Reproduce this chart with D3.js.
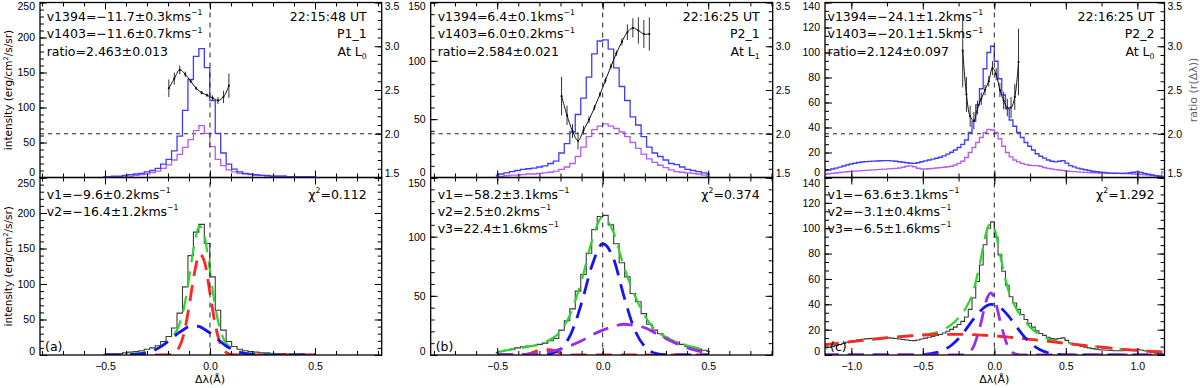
<!DOCTYPE html>
<html>
<head>
<meta charset="utf-8">
<script src="https://cdnjs.cloudflare.com/ajax/libs/d3/7.8.5/d3.min.js"></script>
<style>
  body { margin: 0; background: #fff; }
  svg { display: block; font-family: "DejaVu Sans", sans-serif; }
</style>
</head>
<body>
<div id="chart"></div>
<script>
// ---------------- data ----------------

// panel (a) P1_1 : wavelength bins (Angstrom) and Si IV intensities
var lamA = [-0.508,-0.482,-0.456,-0.430,-0.404,-0.378,-0.352,-0.326,-0.300,-0.274,
            -0.248,-0.222,-0.196,-0.170,-0.144,-0.118,-0.092,-0.066,-0.040,-0.014,
             0.012, 0.038, 0.064, 0.090, 0.116, 0.142, 0.168, 0.194, 0.220, 0.246,
             0.272, 0.298, 0.324, 0.350, 0.376, 0.402, 0.428, 0.454, 0.480, 0.506];
var i1394A = [1,1,2,2,3,4,5,6,8,10, 13,19,26,38,59,96,140,173,184,157,
              110,63,35,19,12,8,6,5,4,3, 3,2,2,2,1,1,1,1,1,1];
var i1403A = [1,1,1,1,2,2,3,4,5,7, 9,13,18,25,33,43,54,67,74,63,
              44,26,17,11,8,6,5,4,3,3, 2,2,2,2,1,1,1,1,1,1];
var ratioXA   = [-0.196,-0.170,-0.144,-0.118,-0.092,-0.066,-0.040,-0.014,0.012,0.038,0.064,0.090];
var ratioA    = [2.52,2.63,2.73,2.68,2.60,2.52,2.47,2.44,2.41,2.38,2.42,2.55];
var ratioErrA = [0.10,0.07,0.05,0.03,0.02,0.02,0.02,0.02,0.03,0.04,0.07,0.14];
var fitXA    = [-0.5,-0.4,-0.3,-0.25,-0.2,-0.175,-0.15,-0.125,-0.1,-0.075,-0.05,-0.025,0,0.025,0.05,0.075,0.1,0.15,0.2,0.3,0.4,0.5];
var fitTotA  = [1,1.5,4.5,9,19,27,40,65,108,155,182,166,118,68,34,17,10,4,2,1.5,1,1];
var fitRedA  = [0,0,0,0,0.4,2,9,29,68,114,142,130,87,43,15,4,1,0,0,0,0,0];
var fitBlueA = [0,0.2,3,9,19,25,31,36,40,41,40,36,31,25,19,13,9,3,1,0,0,0];

// panel (b) P2_1
var lamB = [-0.507,-0.481,-0.455,-0.429,-0.403,-0.377,-0.351,-0.325,-0.299,-0.273,
            -0.247,-0.221,-0.195,-0.169,-0.143,-0.117,-0.091,-0.065,-0.039,-0.013,
             0.013, 0.039, 0.065, 0.091, 0.117, 0.143, 0.169, 0.195, 0.221, 0.247,
             0.273, 0.299, 0.325, 0.351, 0.377, 0.403, 0.429, 0.455, 0.481, 0.507];
var i1394B = [2,3,4,5,6,7,7.5,8,9,10, 12,14,21,29,39,54,68,86,106,117,
              118,110,94,78,66,52,45,35,26,21, 18,15,12,11,9,7,6,5,4,3];
var i1403B = [1,1,1.5,2,2,2.5,3,3,3.5,4, 4.5,5.5,7,9,12,18,26,35,41,44,
              46,44,42,39,35,30,25,20,16,13, 10.5,8.5,6.5,5,4.5,4,3.5,3,2,1];
var ratioXB   = [-0.195,-0.169,-0.143,-0.117,-0.091,-0.065,-0.039,-0.013,0.013,0.039,0.065,0.091,0.117,0.143,0.169,0.195,0.221];
var ratioB    = [2.43,2.21,2.03,1.92,2.04,2.16,2.30,2.45,2.61,2.77,2.92,3.05,3.16,3.21,3.18,3.14,3.14];
var ratioErrB = [0.22,0.11,0.08,0.10,0.05,0.04,0.03,0.03,0.03,0.03,0.03,0.04,0.09,0.11,0.15,0.16,0.19];
var fitXB    = [-0.5,-0.45,-0.4,-0.35,-0.3,-0.25,-0.2,-0.15,-0.1,-0.05,0,0.05,0.1,0.15,0.2,0.25,0.3,0.35,0.4,0.45,0.5];
var fitTotB  = [2.5,4,5.5,7,9,13,20,36,63,97,117,104,75,51,33,21,15,11,8,6,4];
var fitRedB  = [0,0,0.1,1,4,4.5,1.5,0.1,0,0,0,0,0,0,0,0,0,0,0,0,0];
var fitBlueB = [0,0,0,0,0.2,1,5,18,44,76,94,82,50,22,7,1.5,0.2,0,0,0,0];
var fitPurpB = [0,0.1,0.3,0.7,1.4,2.8,4.9,8.1,12,17,21,24,26,25,23,18.5,14,9.6,6,3.5,2];

// panel (c) P2_2
var lamC = [-1.183,-1.157,-1.131,-1.105,-1.079,-1.053,-1.027,-1.001,-0.975,-0.949,
            -0.923,-0.897,-0.871,-0.845,-0.819,-0.793,-0.767,-0.741,-0.715,-0.689,
            -0.663,-0.637,-0.611,-0.585,-0.559,-0.533,-0.507,-0.481,-0.455,-0.429,
            -0.403,-0.377,-0.351,-0.325,-0.299,-0.273,-0.247,-0.221,-0.195,-0.169,
            -0.143,-0.117,-0.091,-0.065,-0.039,-0.013, 0.013, 0.039, 0.065, 0.091,
             0.117, 0.143, 0.169, 0.195, 0.221, 0.247, 0.273, 0.299, 0.325, 0.351,
             0.377, 0.403, 0.429, 0.455, 0.481, 0.507, 0.533, 0.559, 0.585, 0.611,
             0.637, 0.663, 0.689, 0.715, 0.741, 0.767, 0.793, 0.819, 0.845, 0.871,
             0.897, 0.923, 0.949, 0.975, 1.001, 1.027, 1.053, 1.079, 1.105, 1.131,
             1.157, 1.183];
var i1394C = [5.5,6,6.8,7.5,8.3,9.2,10,10.8,11.4,12,
              12.4,12.7,12.9,13.1,13.2,13.4,13.5,13.5,13.3,13,
              12.6,12.2,11.8,11.4,11.3,11.8,12.6,13.3,14,14.7,
              15.4,16.2,17.3,18.7,20.2,22,24,26.5,30,36,
              45,58,71,87,100,105,93,79,66,55,
              46,41,36,32,28,25,22,19,17,15.5,
              14,13,12.5,13,13.5,11.5,9.5,8.5,7.5,6.8,
              6.2,5.6,5,4.6,4.2,4,3.7,3.5,3.4,3.3,
              3.3,3.5,3.8,4.2,4.5,4,3.3,2.6,2,1.5,
              1,0.8];
var i1403C = [2.5,3,3.3,3.6,4,4.3,4.6,4.9,5.1,5.3,
              5.5,5.7,5.9,6.1,6.3,6.5,6.7,6.9,7.1,7.3,
              7.6,8.2,9,9.3,8.6,7.4,6.8,6.8,7,7.3,
              7.6,7.9,8.2,8.6,9,10,11.3,13,16,20,
              24,28,32,36,38.5,38,36,31,25,20,
              16.5,14,12.5,11.3,10.5,9.8,9.5,9.5,9,8,
              7.3,6.8,6.3,6,5.6,5.2,4.9,4.7,4.5,4.3,
              4.1,3.9,3.8,3.7,3.6,3.5,3.4,3.3,3.3,3.3,
              3.2,3.1,3,2.8,2.6,2.4,2.2,2,1.6,1.3,
              1.2,4.5];
var ratioXC   = [-0.221,-0.195,-0.169,-0.143,-0.117,-0.091,-0.065,-0.039,-0.013,0.013,0.039,0.065,0.091,0.117,0.143,0.169];
var ratioC    = [2.95,2.45,2.2,2.15,2.3,2.4,2.5,2.6,2.75,2.68,2.5,2.38,2.3,2.3,2.42,2.82];
var ratioErrC = [0.42,0.2,0.12,0.1,0.08,0.07,0.06,0.06,0.08,0.07,0.08,0.1,0.1,0.12,0.15,0.38];
var fitXC    = [-1.2,-1.1,-1.0,-0.9,-0.8,-0.7,-0.6,-0.5,-0.4,-0.35,-0.3,-0.25,-0.2,-0.15,-0.1,-0.05,-0.025,0,
                0.05,0.1,0.15,0.2,0.25,0.3,0.35,0.4,0.5,0.6,0.7,0.8,0.9,1.0,1.1,1.2];
var fitTotC  = [7.9,9.2,10.5,11.8,13.0,14.1,15.0,16.0,18.2,20.4,24.0,29.3,36.9,49.3,72.7,99.3,104.1,99.7,
                73.7,50.3,37.3,28.7,22.0,17.2,13.9,11.7,9.3,7.9,6.7,5.6,4.5,3.6,2.9,2.2];
var fitRedC  = [7.9,9.2,10.5,11.8,13.0,14.1,15.0,15.7,16.2,16.3,16.3,16.3,16.2,16.0,15.7,15.4,15.2,15.0,
                14.6,14.1,13.6,13.0,12.4,11.8,11.2,10.5,9.2,7.9,6.7,5.6,4.5,3.6,2.9,2.2];
var fitBlueC = [0,0,0,0,0,0,0,0.3,2,4.1,7.7,13,20,27.7,34.6,39,39.9,39.8,
                36.7,30.6,23,15.7,9.6,5.4,2.7,1.2,0.1,0,0,0,0,0,0,0];
var fitPurpC = [0,0,0,0,0,0,0,0,0,0,0,0,0.7,5.6,22.4,44.9,49,44.9,
                22.4,5.6,0.7,0,0,0,0,0,0,0,0,0,0,0,0,0];

// tick labels
var ratioTicks = [1.5, 2.0, 2.5, 3.0, 3.5];

// annotation texts
var textTopA = ["v1394=\u221211.7\u00b10.3kms^{\u22121}", "v1403=\u221211.6\u00b10.7kms^{\u22121}", "ratio=2.463\u00b10.013"];
var textTopB = ["v1394=6.4\u00b10.1kms^{\u22121}", "v1403=6.0\u00b10.2kms^{\u22121}", "ratio=2.584\u00b10.021"];
var textTopC = ["v1394=\u221224.1\u00b11.2kms^{\u22121}", "v1403=\u221220.1\u00b11.5kms^{\u22121}", "ratio=2.124\u00b10.097"];
var textInfoA = ["22:15:48 UT", "P1_1", "At L_{0}"];
var textInfoB = ["22:16:25 UT", "P2_1", "At L_{1}"];
var textInfoC = ["22:16:25 UT", "P2_2", "At L_{0}"];
var textFitA = ["v1=\u22129.6\u00b10.2kms^{\u22121}", "v2=\u221216.4\u00b11.2kms^{\u22121}"];
var textFitB = ["v1=\u221258.2\u00b13.1kms^{\u22121}", "v2=2.5\u00b10.2kms^{\u22121}", "v3=22.4\u00b11.6kms^{\u22121}"];
var textFitC = ["v1=\u221263.6\u00b13.1kms^{\u22121}", "v2=\u22123.1\u00b10.4kms^{\u22121}", "v3=\u22126.5\u00b11.6kms^{\u22121}"];
var chiA = "\u03c7^{2}=0.112", chiB = "\u03c7^{2}=0.374", chiC = "\u03c7^{2}=1.292";

// ---------------- layout ----------------
var W = 1200, H = 388;
var yTop = 2.5, yMid = 177.5, yBot = 355;
var tickFont = "'Liberation Sans', Arial, sans-serif";

var col = {
  blueHist: "#3c3cff", purpHist: "#b35cf2", blackHist: "#3a3a3a",
  tot: "#2fd42f", red: "#ff2626", blue: "#1414f5", purp: "#9a2ee8"
};

var panels = [
  { left: 40, right: 381.7, xDom: [-0.8095, 0.8176], xMajor: [-0.5, 0, 0.5], xMinor: 0.1,
    yMax: 250, yMajor: 50, yMinor: 10,
    lam: lamA, i1394: i1394A, i1403: i1403A, rx: ratioXA, rv: ratioA, re: ratioErrA,
    fx: fitXA, fits: [["tot", fitTotA], ["red", fitRedA], ["blue", fitBlueA]],
    top: textTopA, info: textInfoA, fit: textFitA, chi: chiA, tag: "(a)",
    dxL: 6.7, dxR: 15, xLabel: true, yLabel: true, ratioLabel: false },
  { left: 430.7, right: 772.7, xDom: [-0.8152, 0.8057], xMajor: [-0.5, 0, 0.5], xMinor: 0.1,
    yMax: 150, yMajor: 50, yMinor: 10,
    lam: lamB, i1394: i1394B, i1403: i1403B, rx: ratioXB, rv: ratioB, re: ratioErrB,
    fx: fitXB, fits: [["tot", fitTotB], ["red", fitRedB], ["blue", fitBlueB], ["purp", fitPurpB]],
    top: textTopB, info: textInfoB, fit: textFitB, chi: chiB, tag: "(b)",
    dxL: 7, dxR: 13, xLabel: false, yLabel: false, ratioLabel: false },
  { left: 825, right: 1164.5, xDom: [-1.184, 1.190], xMajor: [-1, -0.5, 0, 0.5, 1], xMinor: 0.25,
    yMax: 140, yMajor: 20, yMinor: 20 / 3,
    lam: lamC, i1394: i1394C, i1403: i1403C, rx: ratioXC, rv: ratioC, re: ratioErrC,
    fx: fitXC, fits: [["tot", fitTotC], ["red", fitRedC], ["blue", fitBlueC], ["purp", fitPurpC]],
    top: textTopC, info: textInfoC, fit: textFitC, chi: chiC, tag: "(c)",
    dxL: 2.5, dxR: 10, xLabel: true, yLabel: false, ratioLabel: true }
];

var svg = d3.select("#chart").append("svg")
  .attr("width", W).attr("height", H);

// text with ^{..} superscripts and _{..} subscripts
function rich(t, s, fs) {
  var parts = s.split(/(\^\{[^}]*\}|_\{[^}]*\})/);
  var shift = 0;
  parts.forEach(function(pt) {
    if (!pt) return;
    if (pt[0] === "^" || pt[0] === "_") {
      var up = pt[0] === "^" ? -0.42 * fs : 0.28 * fs;
      t.append("tspan").attr("dy", up - shift).attr("font-size", fs * 0.62).text(pt.slice(2, -1));
      shift = up;
    } else {
      t.append("tspan").attr("dy", -shift).text(pt);
      shift = 0;
    }
  });
}

function steps(lo, hi, step) {
  var out = [];
  for (var k = Math.ceil(lo / step - 1e-6); k * step <= hi + 1e-9; k++) out.push(+(k * step).toFixed(6));
  return out;
}

// keep end labels inside their own half so neighbouring halves do not collide
function clampLabels(g, scale, lo, hi, inLo, inHi) {
  g.selectAll(".tick text").attr("y", function(d) {
    var v = scale(d);
    if (v < lo + inLo) return lo + inLo - v;
    if (v > hi - inHi) return hi - inHi - v;
    return 0;
  });
}

function styleAxis(g) {
  g.select(".domain").remove();
  g.attr("font-family", tickFont).attr("font-size", 10.5);
  g.selectAll(".tick line").attr("stroke", "#000").attr("stroke-width", 1);
  g.selectAll(".tick text").attr("fill", "#000");
}

// one side of a frame: minor + major ticks pointing inward
function sideAxis(axisFn, scale, transform, minorVals, majorVals, fmt, pad) {
  var gm = svg.append("g").attr("transform", transform)
    .call(axisFn(scale).tickValues(minorVals).tickSize(-4).tickSizeOuter(0).tickFormat(""));
  styleAxis(gm);
  var g = svg.append("g").attr("transform", transform)
    .call(axisFn(scale).tickValues(majorVals).tickSize(-7).tickSizeOuter(0)
      .tickPadding(pad || 4).tickFormat(fmt || ""));
  styleAxis(g);
  return g;
}

panels.forEach(function(p, pi) {
  var x = d3.scaleLinear().domain(p.xDom).range([p.left, p.right]);
  var yT = d3.scaleLinear().domain([0, p.yMax]).range([yMid, yTop]);
  var yB = d3.scaleLinear().domain([0, p.yMax]).range([yBot, yMid]);
  var yR = d3.scaleLinear().domain([1.5, 3.5]).range([yMid, yTop]);

  // clips
  var defs = svg.append("defs");
  defs.append("clipPath").attr("id", "ct" + pi).append("rect")
    .attr("x", p.left).attr("y", yTop).attr("width", p.right - p.left).attr("height", yMid - yTop);
  defs.append("clipPath").attr("id", "cb" + pi).append("rect")
    .attr("x", p.left).attr("y", yMid).attr("width", p.right - p.left).attr("height", yBot - yMid);

  var gt = svg.append("g").attr("clip-path", "url(#ct" + pi + ")");
  var gb = svg.append("g").attr("clip-path", "url(#cb" + pi + ")");

  // reference lines
  gt.append("line")
    .attr("x1", p.left).attr("x2", p.right).attr("y1", yR(2.0)).attr("y2", yR(2.0))
    .attr("stroke", "#222").attr("stroke-width", 1).attr("stroke-dasharray", "4,4");
  svg.append("line")
    .attr("x1", x(0)).attr("x2", x(0)).attr("y1", yTop).attr("y2", yBot)
    .attr("stroke", "#222").attr("stroke-width", 1).attr("stroke-dasharray", "5,5");

  // top: Si IV 1394 / 1403 profiles
  var histT = d3.line().curve(d3.curveStep)
    .x(function(d, i) { return x(p.lam[i]); }).y(function(d) { return yT(d); });
  gt.append("path").attr("d", histT(p.i1403)).attr("fill", "none")
    .attr("stroke", col.purpHist).attr("stroke-width", 1.3);
  gt.append("path").attr("d", histT(p.i1394)).attr("fill", "none")
    .attr("stroke", col.blueHist).attr("stroke-width", 1.3);

  // ratio curve with error bars
  var rg = gt.append("g");
  rg.selectAll("line.err").data(p.rv).enter().append("line")
    .attr("x1", function(d, i) { return x(p.rx[i]); })
    .attr("x2", function(d, i) { return x(p.rx[i]); })
    .attr("y1", function(d, i) { return yR(d - p.re[i]); })
    .attr("y2", function(d, i) { return yR(d + p.re[i]); })
    .attr("stroke", "#333").attr("stroke-width", 1);
  var rline = d3.line().curve(d3.curveCatmullRom.alpha(0.5))
    .x(function(d, i) { return x(p.rx[i]); }).y(function(d) { return yR(d); });
  rg.append("path").attr("d", rline(p.rv)).attr("fill", "none")
    .attr("stroke", "#111").attr("stroke-width", 1);
  rg.selectAll("circle").data(p.rv).enter().append("circle")
    .attr("cx", function(d, i) { return x(p.rx[i]); })
    .attr("cy", function(d) { return yR(d); })
    .attr("r", 1.1).attr("fill", "#111");

  // bottom: observed profile and Gaussian fit components
  var histB = d3.line().curve(d3.curveStep)
    .x(function(d, i) { return x(p.lam[i]); }).y(function(d) { return yB(d); });
  gb.append("path").attr("d", histB(p.i1394)).attr("fill", "none")
    .attr("stroke", col.blackHist).attr("stroke-width", 1.1);
  var fline = d3.line().curve(d3.curveMonotoneX)
    .x(function(d, i) { return x(p.fx[i]); }).y(function(d) { return yB(d); });
  p.fits.forEach(function(f) {
    gb.append("path").attr("d", fline(f[1])).attr("fill", "none")
      .attr("stroke", col[f[0]])
      .attr("stroke-width", f[0] === "tot" ? 2.2 : 2.8)
      .attr("stroke-dasharray", "16,9");
  });

  // frames
  [[yTop, yMid], [yMid, yBot]].forEach(function(r) {
    svg.append("rect").attr("x", p.left).attr("y", r[0])
      .attr("width", p.right - p.left).attr("height", r[1] - r[0])
      .attr("fill", "none").attr("stroke", "#000").attr("stroke-width", 1.3);
  });

  // axes
  var xMin = steps(p.xDom[0], p.xDom[1], p.xMinor);
  var yMinV = steps(0, p.yMax, p.yMinor);
  var yMajV = steps(0, p.yMax, p.yMajor);
  var rMin = steps(1.5, 3.5, 0.1);
  var fmtD = d3.format("d"), fmt1 = d3.format(".1f");

  var gl = sideAxis(d3.axisLeft, yT, "translate(" + p.left + ",0)", yMinV, yMajV, fmtD, 5);
  clampLabels(gl, yT, yTop, yMid, 4, 5.5);
  var gl2 = sideAxis(d3.axisLeft, yB, "translate(" + p.left + ",0)", yMinV, yMajV, fmtD, 5);
  clampLabels(gl2, yB, yMid, yBot, 5.5, 4);
  var gr = sideAxis(d3.axisRight, yR, "translate(" + p.right + ",0)", rMin, ratioTicks, fmt1, 3);
  clampLabels(gr, yR, yTop, yMid, 4, 4);
  sideAxis(d3.axisRight, yB, "translate(" + p.right + ",0)", yMinV, yMajV, null);

  sideAxis(d3.axisTop, x, "translate(0," + yTop + ")", xMin, p.xMajor, null);
  sideAxis(d3.axisBottom, x, "translate(0," + yMid + ")", xMin, p.xMajor, null);
  sideAxis(d3.axisTop, x, "translate(0," + yMid + ")", xMin, p.xMajor, null);
  sideAxis(d3.axisBottom, x, "translate(0," + yBot + ")", xMin, p.xMajor, fmt1, 8);

  // annotations
  var fs = 12.5;
  p.top.forEach(function(s, i) {
    rich(svg.append("text").attr("x", p.left + p.dxL).attr("y", 20.5 + 17.5 * i)
      .attr("font-size", fs).attr("fill", "#000"), s, fs);
  });
  p.info.forEach(function(s, i) {
    rich(svg.append("text").attr("x", p.right - p.dxR).attr("y", 20.5 + 17.5 * i)
      .attr("text-anchor", "end").attr("font-size", fs).attr("fill", "#000"), s, fs);
  });
  p.fit.forEach(function(s, i) {
    rich(svg.append("text").attr("x", p.left + p.dxL).attr("y", 198.5 + 17 * i)
      .attr("font-size", fs).attr("fill", "#000"), s, fs);
  });
  rich(svg.append("text").attr("x", p.right - p.dxR).attr("y", 198.5)
    .attr("text-anchor", "end").attr("font-size", fs).attr("fill", "#000"), p.chi, fs);
  svg.append("text").attr("x", p.left + 5).attr("y", 351)
    .attr("font-size", 12.5).attr("fill", "#000").text(p.tag);

  if (p.xLabel) {
    svg.append("text").attr("x", x(0)).attr("y", 383)
      .attr("text-anchor", "middle").attr("font-size", 11).attr("fill", "#000")
      .text("\u0394\u03bb(\u00c5)");
  }
  if (p.yLabel) {
    [(yTop + yMid) / 2, (yMid + yBot) / 2].forEach(function(cy) {
      rich(svg.append("text")
        .attr("transform", "translate(12," + cy + ") rotate(-90)")
        .attr("text-anchor", "middle").attr("font-size", 10.5).attr("fill", "#000"),
        "intensity (erg/cm^{2}/s/sr)", 10.5);
    });
  }
  if (p.ratioLabel) {
    svg.append("text")
      .attr("transform", "translate(1197," + ((yTop + yMid) / 2) + ") rotate(-90)")
      .attr("text-anchor", "middle").attr("font-size", 11).attr("fill", "#666")
      .text("ratio (r(\u0394\u03bb))");
  }
});
</script>
</body>
</html>
